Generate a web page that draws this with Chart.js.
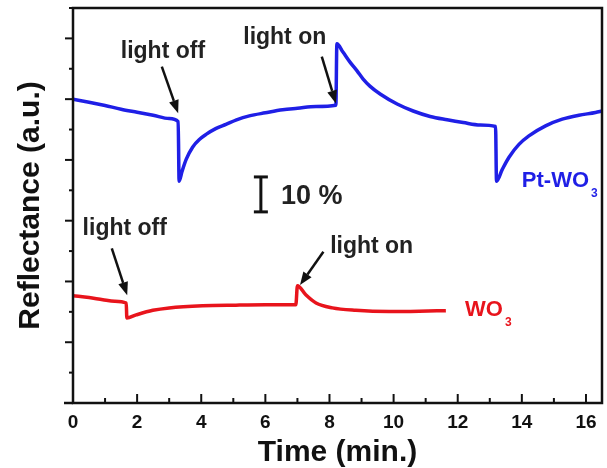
<!DOCTYPE html>
<html>
<head>
<meta charset="utf-8">
<script src="https://cdn.jsdelivr.net/npm/chart.js@4/dist/chart.umd.min.js"></script>
<style>
  html, body { margin: 0; padding: 0; background: #fff; }
  #wrap { width: 607px; height: 468px; position: relative; }
</style>
</head>
<body>
<div id="wrap"><canvas id="chart"></canvas></div>
<script>
// --- DATA ---
const FONT = "'Liberation Sans', Arial, sans-serif";

// Pt-WO3 trace: time (min) / reflectance (a.u.)
const ptTime = [0, 0.5, 1.0, 1.5, 2.0, 2.5, 3.0, 3.28, 3.31, 3.4, 3.53, 3.73, 3.95, 4.15, 4.45, 4.77,
  5.1, 5.5, 6.0, 6.54, 7.0, 7.58, 8.2, 8.23, 8.42, 8.64, 8.86, 9.05, 9.26, 9.58, 10.11, 10.61,
  11.14, 11.67, 12.17, 12.7, 13.18, 13.21, 13.39, 13.6, 13.91, 14.22, 14.74, 15.26, 15.78, 16.3, 16.5];
const ptRefl = [100.0, 99.0, 97.9, 96.7, 95.7, 94.7, 93.6, 92.6, 73.0, 76.2, 80.2, 84.2, 86.8, 88.4, 90.3, 91.7,
  93.2, 94.5, 95.5, 96.5, 97.0, 97.6, 98.0, 118.2, 115.5, 112.2, 109.3, 106.6, 104.3, 101.7, 98.4, 96.1,
  94.3, 93.2, 92.3, 91.5, 91.0, 73.0, 76.9, 80.9, 85.1, 87.9, 91.2, 93.4, 94.7, 95.6, 96.1];

// WO3 trace
const wTime = [0, 0.5, 0.93, 1.3, 1.66, 1.68, 1.97, 2.49, 3.0, 4.04, 5.08, 6.0, 6.95, 7.0, 7.26, 7.58,
  8.09, 8.82, 9.86, 10.8, 11.63];
const wRefl = [35.3, 34.7, 34.0, 33.5, 32.9, 28.0, 29.0, 30.5, 31.3, 32.0, 32.2, 32.3, 32.3, 38.6, 35.6, 32.9,
  31.3, 30.5, 30.1, 30.2, 30.4];

const xLabels = [0, 2, 4, 6, 8, 10, 12, 14, 16];
const xMinor = [1, 3, 5, 7, 9, 11, 13, 15];
const yMajor = [0, 20, 40, 60, 80, 100, 120];
const yMinor = [10, 30, 50, 70, 90, 110, 130];

// annotations, placed in data coordinates
const arrows = [
  { from: [2.77, 110.7], to: [3.28, 95.4] },
  { from: [7.76, 114.0], to: [8.20, 98.6] },
  { from: [1.21, 50.9], to: [1.69, 35.5] },
  { from: [7.81, 49.8], to: [7.08, 38.8] },
];
const notes = [
  { text: 'light off', at: [1.49, 113.5] },
  { text: 'light on', at: [5.31, 118.2] },
  { text: 'light off', at: [0.30, 55.3] },
  { text: 'light on', at: [8.02, 49.5] },
];
const seriesNames = [
  { text: 'Pt-WO', sub: '3', at: [14.0, 71.2], color: '#1f1fe6' },
  { text: 'WO', sub: '3', at: [12.23, 28.7], color: '#e8141c' },
];
const scaleBar = { t: 5.86, from: 62.9, to: 74.4, label: '10 %' };

// --- DRAWING HELPERS ---
function drawArrow(ctx, x1, y1, x2, y2) {
  const ang = Math.atan2(y2 - y1, x2 - x1);
  const head = 13, half = 5;
  const bx = x2 - head * Math.cos(ang), by = y2 - head * Math.sin(ang);
  ctx.beginPath();
  ctx.moveTo(x1, y1);
  ctx.lineTo(bx, by);
  ctx.stroke();
  ctx.beginPath();
  ctx.moveTo(x2, y2);
  ctx.lineTo(bx + half * Math.sin(ang), by - half * Math.cos(ang));
  ctx.lineTo(bx - half * Math.sin(ang), by + half * Math.cos(ang));
  ctx.closePath();
  ctx.fill();
}

const overlay = {
  id: 'overlay',
  afterDatasetsDraw(chart) {
    const { ctx, chartArea: a, scales: { x, y } } = chart;
    ctx.save();
    ctx.strokeStyle = '#111';
    ctx.fillStyle = '#111';
    ctx.lineCap = 'butt';

    // frame
    ctx.lineWidth = 2.5;
    ctx.strokeRect(a.left, a.top, a.right - a.left, a.bottom - a.top);
    ctx.beginPath();
    ctx.moveTo(a.left - 9, a.bottom);
    ctx.lineTo(a.left, a.bottom);
    ctx.stroke();

    // ticks: x inward, y outward
    ctx.lineWidth = 2;
    const tick = (x1, y1, x2, y2) => { ctx.beginPath(); ctx.moveTo(x1, y1); ctx.lineTo(x2, y2); ctx.stroke(); };
    xLabels.forEach(v => { const p = x.getPixelForValue(v); tick(p, a.bottom, p, a.bottom - 9); });
    xMinor.forEach(v => { const p = x.getPixelForValue(v); tick(p, a.bottom, p, a.bottom - 5); });
    yMajor.forEach(v => { const p = y.getPixelForValue(v); tick(a.left, p, a.left - 8, p); });
    yMinor.forEach(v => { const p = y.getPixelForValue(v); tick(a.left, p, a.left - 4, p); });

    // arrows
    ctx.lineWidth = 2.5;
    arrows.forEach(ar => {
      drawArrow(ctx, x.getPixelForValue(ar.from[0]), y.getPixelForValue(ar.from[1]),
        x.getPixelForValue(ar.to[0]), y.getPixelForValue(ar.to[1]));
    });

    // light on/off labels
    ctx.textAlign = 'left';
    ctx.textBaseline = 'alphabetic';
    ctx.fillStyle = '#222';
    ctx.font = `bold 23px ${FONT}`;
    notes.forEach(n => ctx.fillText(n.text, x.getPixelForValue(n.at[0]), y.getPixelForValue(n.at[1])));

    // scale bar
    const bx = x.getPixelForValue(scaleBar.t);
    const bt = y.getPixelForValue(scaleBar.to), bb = y.getPixelForValue(scaleBar.from);
    ctx.lineWidth = 3;
    tick(bx, bt, bx, bb);
    tick(bx - 7, bt, bx + 7, bt);
    tick(bx - 7, bb, bx + 7, bb);
    ctx.font = `bold 27px ${FONT}`;
    ctx.fillText(scaleBar.label, bx + 20, (bt + bb) / 2 + 10);

    // series names with subscript
    seriesNames.forEach(s => {
      const px = x.getPixelForValue(s.at[0]), py = y.getPixelForValue(s.at[1]);
      ctx.fillStyle = s.color;
      ctx.font = `bold 22px ${FONT}`;
      ctx.fillText(s.text, px, py);
      const w = ctx.measureText(s.text).width;
      ctx.font = `bold 12px ${FONT}`;
      ctx.fillText(s.sub, px + w + 2, py + 10);
    });
    ctx.restore();
  }
};

// --- CHART ---
new Chart(document.getElementById('chart'), {
  type: 'line',
  data: {
    datasets: [
      {
        label: 'Pt-WO3',
        data: ptTime.map((t, i) => ({ x: t, y: ptRefl[i] })),
        borderColor: '#1f1fe6',
        borderWidth: 3.5,
        pointRadius: 0,
        cubicInterpolationMode: 'monotone',
      },
      {
        label: 'WO3',
        data: wTime.map((t, i) => ({ x: t, y: wRefl[i] })),
        borderColor: '#e8141c',
        borderWidth: 3.5,
        pointRadius: 0,
        cubicInterpolationMode: 'monotone',
      }
    ]
  },
  options: {
    responsive: true,
    maintainAspectRatio: false,
    animation: false,
    devicePixelRatio: 1,
    layout: { padding: { top: 8, right: 5, left: 0, bottom: 0 } },
    plugins: { legend: { display: false }, tooltip: { enabled: false } },
    scales: {
      x: {
        type: 'linear',
        min: 0,
        max: 16.5,
        afterBuildTicks: s => { s.ticks = xLabels.map(v => ({ value: v })); },
        afterFit: s => { s.height = 65; },
        grid: { display: false, drawTicks: false },
        border: { display: false },
        ticks: { color: '#111', padding: 8, maxRotation: 0, font: { family: FONT, size: 19, weight: 'bold' } },
        title: {
          display: true,
          text: 'Time (min.)',
          color: '#111',
          padding: 0,
          font: { family: FONT, size: 30, weight: 'bold', lineHeight: 1 }
        }
      },
      y: {
        min: 0,
        max: 130,
        afterFit: s => { s.width = 73; },
        grid: { display: false, drawTicks: false },
        border: { display: false },
        ticks: { display: false },
        title: {
          display: true,
          text: 'Reflectance (a.u.)',
          color: '#111',
          padding: { top: 16, bottom: 0 },
          font: { family: FONT, size: 30, weight: 'bold', lineHeight: 1 }
        }
      }
    }
  },
  plugins: [overlay]
});
</script>
</body>
</html>
